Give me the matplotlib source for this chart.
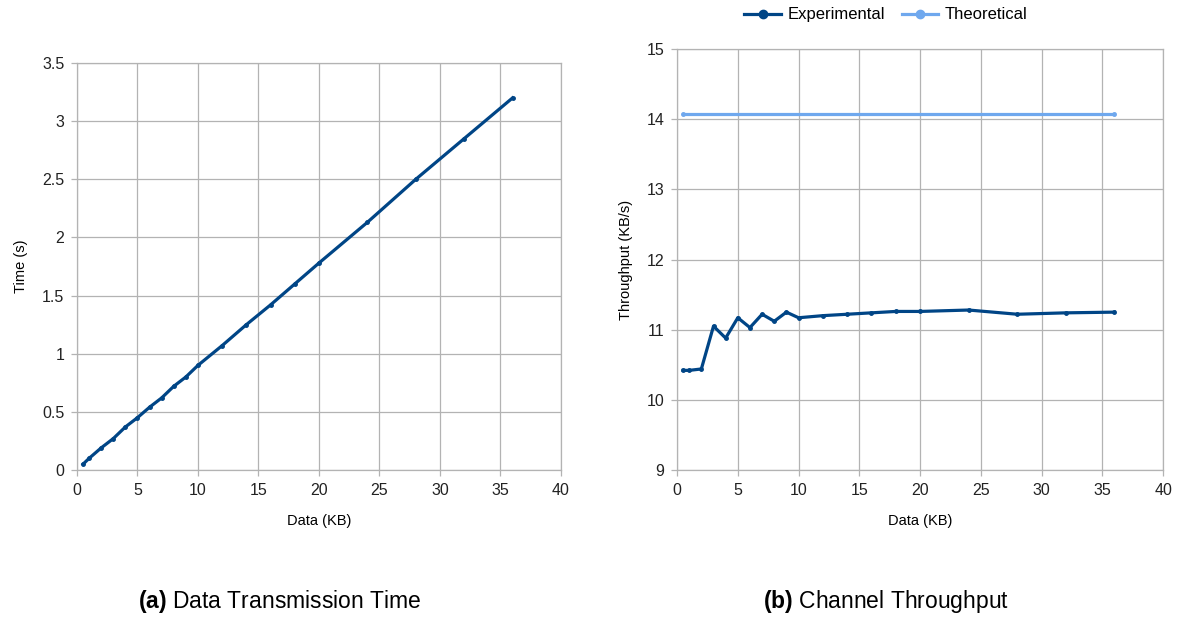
import matplotlib.pyplot as plt

plt.rcParams['font.family'] = ['Liberation Sans', 'DejaVu Sans']
plt.rcParams['mathtext.fontset'] = 'custom'
plt.rcParams['mathtext.bf'] = 'Liberation Sans:bold'
plt.rcParams['mathtext.rm'] = 'Liberation Sans'

# Data sizes (KB)
data_kb = [0.5, 1, 2, 3, 4, 5, 6, 7, 8, 9, 10, 12, 14, 16, 18, 20, 24, 28, 32, 36]
# Transmission time (s)
time_s = [0.05, 0.10, 0.19, 0.27, 0.37, 0.45, 0.54, 0.62, 0.72, 0.80,
          0.90, 1.07, 1.25, 1.42, 1.60, 1.78, 2.13, 2.50, 2.85, 3.20]
# Measured throughput (KB/s)
throughput = [10.42, 10.42, 10.44, 11.05, 10.88, 11.17, 11.03, 11.22, 11.12, 11.25,
              11.17, 11.20, 11.22, 11.24, 11.26, 11.26, 11.28, 11.22, 11.24, 11.25]
# Theoretical throughput (KB/s)
theo_x = [0.5, 36]
theo_y = [14.07, 14.07]

dark = '#004586'
light = '#6fa8ee'
grid_c = '#b3b3b3'

fig = plt.figure(figsize=(11.82, 6.19), dpi=100)
ax1 = fig.add_axes([0.0651, 0.2407, 0.4095, 0.6575])
ax2 = fig.add_axes([0.5728, 0.2407, 0.4112, 0.6801])

def style(ax):
    ax.grid(True, color=grid_c, linewidth=0.9)
    ax.set_axisbelow(True)
    for s in ax.spines.values():
        s.set_color(grid_c)
        s.set_linewidth(0.9)
    ax.tick_params(axis='both', colors=grid_c, labelcolor='#222222',
                   labelsize=11.5, length=4, width=0.9, pad=5)
    ax.set_xlim(0, 40)
    ax.set_xticks(range(0, 41, 5))

ax1.plot(data_kb, time_s, color=dark, linewidth=2.3, marker='o', markersize=2.5)
style(ax1)
ax1.set_ylim(0, 3.5)
ax1.set_yticks([0, 0.5, 1, 1.5, 2, 2.5, 3, 3.5])
ax1.set_yticklabels(['0', '0.5', '1', '1.5', '2', '2.5', '3', '3.5'])
ax1.set_xlabel('Data (KB)', fontsize=10.5, labelpad=12)
ax1.set_ylabel('Time (s)', fontsize=10.5, labelpad=10)

ax2.plot(data_kb, throughput, color=dark, linewidth=2.3, marker='o', markersize=2.5,
         label='Experimental')
ax2.plot(theo_x, theo_y, color=light, linewidth=2.3, marker='o', markersize=2.5,
         label='Theoretical')
style(ax2)
ax2.set_ylim(9, 15)
ax2.set_yticks(range(9, 16))
ax2.set_xlabel('Data (KB)', fontsize=10.5, labelpad=12)
ax2.set_ylabel('Throughput (KB/s)', fontsize=10.5, labelpad=10)
fig.legend(*ax2.get_legend_handles_labels(), loc='center',
           bbox_to_anchor=(886 / 1182, 0.976), ncol=2, frameon=False,
           fontsize=12, handlelength=2.2, handletextpad=0.4, columnspacing=1.0,
           markerscale=2.4, borderaxespad=0.0)

fig.text(280 / 1182, 0.017, r'$\bf{(a)}$ Data Transmission Time', ha='center', fontsize=16.5)
fig.text(886 / 1182, 0.017, r'$\bf{(b)}$ Channel Throughput', ha='center', fontsize=16.5)

fig.savefig('out.png', dpi=100)
